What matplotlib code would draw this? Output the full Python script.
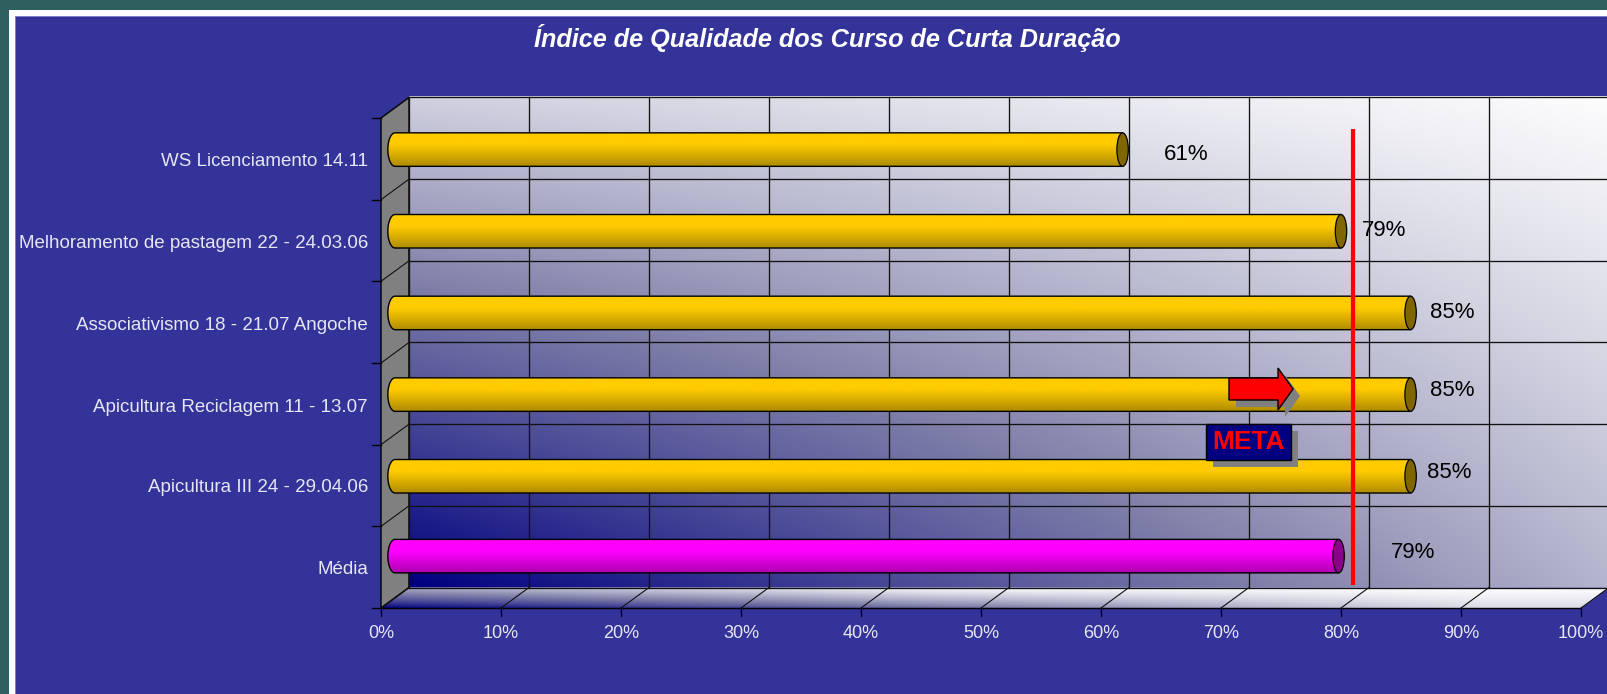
import matplotlib
matplotlib.use("Agg")
import matplotlib.pyplot as plt
import numpy as np
from matplotlib.patches import Polygon, Rectangle, Ellipse

categorias = ["Média", "Apicultura III 24 - 29.04.06", "Apicultura Reciclagem 11 - 13.07",
              "Associativismo 18 - 21.07 Angoche", "Melhoramento de pastagem 22 - 24.03.06",
              "WS Licenciamento 14.11"]
valores = [79.2, 85.2, 85.2, 85.2, 79.4, 61.2]
etiquetas = ["79%", "85%", "85%", "85%", "79%", "61%"]
ticks_x = [0, 10, 20, 30, 40, 50, 60, 70, 80, 90, 100]
meta = 81

W, H = 1607, 694
PX_X = 12.0      # pixeles por 1%
PX_Y = 81.67     # pixeles por categoria
X0, Y0 = 381, 608
DX = 28 / PX_X   # profundidad del grafico
DY = 20.5 / PX_Y

# el eje ocupa toda la figura, x en % e y en categorias
fig = plt.figure(figsize=(W / 100, H / 100), dpi=100, facecolor="#2F5F5F")
ax = fig.add_axes([0, 0, 1, 1])
ax.set_xlim(-X0 / PX_X, (W - X0) / PX_X)
ax.set_ylim(-(H - Y0) / PX_Y, Y0 / PX_Y)
ax.axis("off")
plt.rcParams["font.family"] = "Liberation Sans"

def px(v):
    return v / PX_X

def py(v):
    return v / PX_Y

# marco blanco y fondo azul
ax.add_patch(Rectangle((px(9 - X0), py(Y0 - H - 5)), px(W), py(H - 5), fc="white", ec="none", zorder=0))
ax.add_patch(Rectangle((px(15 - X0), py(Y0 - H - 5)), px(W), py(H - 11), fc="#333399", ec="#8080C8", lw=0.7, zorder=0.1))

ymax = len(categorias)

def color_t(t):
    # azul marino -> gris lavanda -> blanco
    puntos = [0, 0.5, 1]
    r = np.interp(t, puntos, [0, 125, 255])
    g = np.interp(t, puntos, [0, 125, 255])
    b = np.interp(t, puntos, [128, 168, 255])
    return np.dstack([r, g, b]) / 255

def degradado(u, v):
    t = 1 - (1 - 0.66 * u) * (1 - 0.76 * v)
    return color_t(np.clip(t * 1.08, 0, 1))

# pared del fondo
u, v = np.meshgrid(np.linspace(0, 1, 300), np.linspace(1, 0, 200))
ax.imshow(degradado(u, v), extent=[DX, 100 + DX, DY, ymax + DY], aspect="auto", zorder=1, interpolation="bilinear")

# suelo
u, v = np.meshgrid(np.linspace(0, 1, 300), np.linspace(1, 0, 40))
t_frente = np.clip(0.95 * u, 0, 0.85)
t_atras = np.clip(0.68 + 0.7 * u, 0, 1)
im = ax.imshow(color_t(t_frente + (t_atras - t_frente) * v ** 0.8), extent=[0, 100 + DX, 0, DY],
               aspect="auto", zorder=1.1, interpolation="bilinear")
clip = Polygon([(0, 0), (100, 0), (100 + DX, DY), (DX, DY)], transform=ax.transData, fc="none", ec="none")
ax.add_patch(clip)
im.set_clip_path(clip)

# pared izquierda
ax.add_patch(Polygon([(0, 0), (DX, DY), (DX, ymax + DY), (0, ymax)], fc="#808080", ec="black", lw=1.0, zorder=1.2))

# rejilla
for t in ticks_x:
    ax.plot([t + DX, t + DX], [DY, ymax + DY], color="#111111", lw=0.95, zorder=1.5)
    ax.plot([t, t + DX], [0, DY], color="#111111", lw=0.8, zorder=1.5)
    ax.plot([t, t], [0, -py(8)], color="black", lw=0.95, zorder=1.5)
    ax.text(t, -py(26), f"{t}%", color="#E6E6F5", fontsize=13, ha="center", va="center", zorder=5)
for i in range(ymax + 1):
    ax.plot([DX, 100 + DX], [i + DY, i + DY], color="#111111", lw=0.95, zorder=1.5)
    ax.plot([0, DX], [i, i + DY], color="#111111", lw=0.8, zorder=1.5)
    ax.plot([-px(9), 0], [i, i], color="black", lw=0.95, zorder=1.5)
ax.plot([0, 100], [0, 0], color="black", lw=1.0, zorder=1.6)

# barras cilindricas
ALTO = 33.5 / PX_Y
RX = 1.0
colores = [("#FF00FF", "#B000B0", "#8B008B")] + [("#FFCC00", "#B08C00", "#806600")] * 5
pos_etq = [(1413, 553), (1449, 472), (1452, 391), (1452, 313), (1384, 231), (1186, 155)]

for i, (val, col) in enumerate(zip(valores, colores)):
    yc = i + 0.5 + 0.135
    if i > 0:
        yc -= py(1.8)
    x_ini = 1.17
    tt = np.linspace(-np.pi / 2, np.pi / 2, 40)
    izq = np.column_stack([x_ini - RX * np.cos(tt) * 0.6, yc + ALTO / 2 * np.sin(tt)])
    fin = val + 1.0 - RX * 0.4
    der = np.column_stack([fin + np.zeros_like(tt), yc + ALTO / 2 * np.sin(tt)])[::-1]
    cuerpo = np.vstack([izq, der])
    c_top = np.array(matplotlib.colors.to_rgb(col[0]))
    c_bot = np.array(matplotlib.colors.to_rgb(col[1]))
    n = 60
    f = np.clip((np.linspace(0, 1, n) - 0.35) / 0.65, 0, 1)[:, None, None]
    grad = c_top[None, None, :] * (1 - f) + c_bot[None, None, :] * f
    im = ax.imshow(grad, extent=[x_ini - RX, fin + 1, yc - ALTO / 2, yc + ALTO / 2], aspect="auto", zorder=2)
    p = Polygon(cuerpo, transform=ax.transData, fc="none", ec="black", lw=1.0, zorder=2.1)
    ax.add_patch(p)
    im.set_clip_path(p)
    ax.add_patch(Ellipse((fin, yc), RX * 0.95, ALTO, fc=col[2], ec="black", lw=0.9, zorder=2.2))
    ex, ey = pos_etq[i]
    ax.text(px(ex - X0), py(Y0 - ey), etiquetas[i], color="black", fontsize=16, ha="center", va="center", zorder=5)

# nombres de categorias
pos_cat = [570, 487, 408, 326, 243, 162]
for nombre, yy in zip(categorias, pos_cat):
    ax.text(px(368 - X0), py(Y0 - yy), nombre, color="#E6E6F5", fontsize=13.5, ha="right", va="center", zorder=5)

# titulo
ax.text(px(827 - X0), py(Y0 - 38), "Índice de Qualidade dos Curso de Curta Duração", color="white",
        fontsize=18.2, fontweight="bold", fontstyle="italic", ha="center", va="center", zorder=5)

# linea de meta
ax.plot([meta, meta], [py(Y0 - 585), py(Y0 - 129)], color="#FF0000", lw=3, zorder=3, solid_capstyle="butt")

# flecha y cuadro META
def flecha(dx, dy, fc, ec, z):
    xs = np.array([1229, 1278, 1278, 1293, 1278, 1278, 1229]) + dx
    ys = np.array([378, 378, 368, 389, 410, 400, 400]) + dy
    ax.add_patch(Polygon(np.column_stack([px(xs - X0), py(Y0 - ys)]), fc=fc, ec=ec, lw=1, zorder=z))

flecha(7, 7, "#808080", "none", 3.1)
flecha(0, 0, "#FF0000", "black", 3.2)
ax.add_patch(Rectangle((px(1213 - X0), py(Y0 - 467)), px(85), py(36), fc="#808080", ec="none", zorder=3.3))
ax.add_patch(Rectangle((px(1206 - X0), py(Y0 - 460)), px(85), py(36), fc="#000080", ec="black", lw=1, zorder=3.4))
ax.text(px(1248.5 - X0), py(Y0 - 442), "META", color="#FF0000", fontsize=19, fontweight="bold", ha="center", va="center", zorder=3.5)

fig.savefig("out.png", dpi=100, facecolor=fig.get_facecolor())
